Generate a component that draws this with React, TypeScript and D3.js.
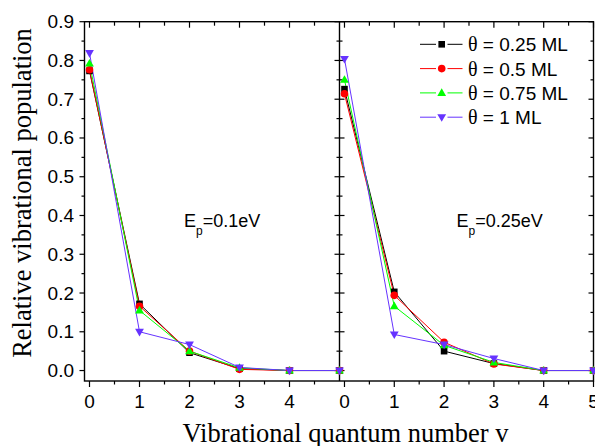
import React from "react";
import * as d3 from "d3";

const vLevels = [0, 1, 2, 3, 4, 5];

// Panel 1: Ep = 0.1 eV
const ep01_theta025 = [0.773, 0.172, 0.046, 0.005, 0.0, 0.0];
const ep01_theta05 = [0.776, 0.166, 0.05, 0.003, 0.0, 0.0];
const ep01_theta075 = [0.792, 0.155, 0.05, 0.007, 0.0, 0.0];
const ep01_theta1 = [0.819, 0.1, 0.067, 0.008, 0.0, 0.0];

// Panel 2: Ep = 0.25 eV
const ep025_theta025 = [0.726, 0.203, 0.05, 0.018, 0.0, 0.0];
const ep025_theta05 = [0.714, 0.194, 0.073, 0.017, 0.0, 0.0];
const ep025_theta075 = [0.75, 0.166, 0.065, 0.021, 0.0, 0.0];
const ep025_theta1 = [0.804, 0.093, 0.067, 0.031, 0.0, 0.0];

const seriesNames = ["0.25 ML", "0.5 ML", "0.75 ML", "1 ML"];
const seriesColors = ["#000000", "#ff0000", "#00ff00", "#6633ff"];
const seriesMarkers = ["square", "circle", "triUp", "triDown"];

const yTicks = [0, 0.1, 0.2, 0.3, 0.4, 0.5, 0.6, 0.7, 0.8, 0.9];
const panelLabels = ["0.1eV", "0.25eV"];

const W = 595;
const H = 446;
const top = 21.7;
const bottom = 381;
const leftX = 84.5;
const midX = 339.5;
const rightX = 593.5;

const yScale = d3.scaleLinear().domain([-0.027, 0.9]).range([bottom, top]);
const xLeft = d3.scaleLinear().domain([-0.1, 5]).range([leftX, midX]);
const xRight = d3.scaleLinear().domain([-0.1, 5]).range([midX, rightX]);

function Marker({ type, x, y, color }: { type: string; x: number; y: number; color: string }) {
  if (type === "square") return <rect x={x - 3.3} y={y - 3.3} width={6.6} height={6.6} fill={color} />;
  if (type === "circle") return <circle cx={x} cy={y} r={3.8} fill={color} />;
  if (type === "triUp")
    return <path d={`M${x},${y - 4.6}L${x + 4.4},${y + 3}L${x - 4.4},${y + 3}Z`} fill={color} />;
  return <path d={`M${x},${y + 4.6}L${x + 4.4},${y - 3}L${x - 4.4},${y - 3}Z`} fill={color} />;
}

export default function App() {
  const panels = [
    { x: xLeft, data: [ep01_theta025, ep01_theta05, ep01_theta075, ep01_theta1], label: panelLabels[0], lx: 184, labels: [0, 1, 2, 3, 4] },
    { x: xRight, data: [ep025_theta025, ep025_theta05, ep025_theta075, ep025_theta1], label: panelLabels[1], lx: 456.5, labels: [0, 1, 2, 3, 4, 5] },
  ];
  const yMinor = d3.range(0, 0.9001, 0.05);
  const xTicksAll = d3.range(0, 5.001, 0.5);
  const ax = "#000";
  const legendY = [44.3, 68.6, 92.9, 117.2];

  return (
    <svg width={W} height={H} style={{ position: "absolute", left: 0, top: 0, background: "#fff" }} fontFamily="Liberation Sans, Arial, sans-serif">
      <rect x={0} y={0} width={W} height={H} fill="#fff" />
      {/* frames */}
      <rect x={leftX} y={top} width={rightX - leftX} height={bottom - top} fill="none" stroke={ax} strokeWidth={1.4} />
      <line x1={midX} x2={midX} y1={top} y2={bottom} stroke={ax} strokeWidth={1.4} />
      {/* y ticks */}
      {yMinor.map((t, i) => {
        const y = yScale(t);
        const major = i % 2 === 0;
        const L = major ? 5 : 3;
        return (
          <g key={"yt" + i}>
            <line x1={leftX - L} x2={leftX} y1={y} y2={y} stroke={ax} strokeWidth={1.2} />
            <line x1={midX - L} x2={midX + L} y1={y} y2={y} stroke={ax} strokeWidth={1.2} />
            <line x1={rightX - L} x2={rightX} y1={y} y2={y} stroke={ax} strokeWidth={1.2} />
          </g>
        );
      })}
      {yTicks.map((t) => (
        <text key={"yl" + t} x={74} y={yScale(t) + 6.5} fontSize={19} textAnchor="end" fill="#000">
          {t.toFixed(1)}
        </text>
      ))}
      {/* x ticks */}
      {panels.map((p, pi) => (
        <g key={"xt" + pi}>
          {xTicksAll.map((t, i) => {
            const x = p.x(t);
            const major = i % 2 === 0;
            if (pi === 0 && t === 5) return null;
            return (
              <g key={i}>
                <line x1={x} x2={x} y1={bottom} y2={bottom + (major ? 6 : 3.5)} stroke={ax} strokeWidth={1.2} />
                <line x1={x} x2={x} y1={top} y2={top + (major ? 6 : 4)} stroke={ax} strokeWidth={1.2} />
              </g>
            );
          })}
          {p.labels.map((t) => (
            <text key={"xl" + t} x={p.x(t)} y={408} fontSize={19} textAnchor="middle" fill="#000">
              {t}
            </text>
          ))}
        </g>
      ))}
      {/* data */}
      {panels.map((p, pi) => {
        const line = d3
          .line<number>()
          .x((_, i) => p.x(vLevels[i]))
          .y((d) => yScale(d));
        return (
          <g key={"d" + pi}>
            {p.data.map((s, si) => (
              <path key={"l" + si} d={line(s) || ""} fill="none" stroke={seriesColors[si]} strokeWidth={1} />
            ))}
            {p.data.map((s, si) => (
              <g key={"m" + si}>
                {s.map((v, i) => (
                  <Marker key={i} type={seriesMarkers[si]} x={p.x(vLevels[i])} y={yScale(v)} color={seriesColors[si]} />
                ))}
              </g>
            ))}
            <text x={p.lx} y={226.5} fontSize={18} fill="#000">
              E
              <tspan fontSize={12} dy={8}>p</tspan>
              <tspan dy={-8}>={p.label}</tspan>
            </text>
          </g>
        );
      })}
      {/* legend */}
      {seriesNames.map((n, i) => {
        const y = legendY[i];
        return (
          <g key={"lg" + i}>
            <line x1={420} x2={436} y1={y} y2={y} stroke={seriesColors[i]} strokeWidth={1} />
            <line x1={447.5} x2={462.5} y1={y} y2={y} stroke={seriesColors[i]} strokeWidth={1} />
            <Marker type={seriesMarkers[i]} x={441.7} y={y} color={seriesColors[i]} />
            <text x={468} y={y + 7} fontSize={19} fill="#000">
              <tspan fontFamily="Liberation Serif, Times New Roman, serif" fontSize={20}>θ</tspan>
              {" = " + n}
            </text>
          </g>
        );
      })}
      {/* axis titles */}
      <text
        transform={`translate(31,193) rotate(-90)`}
        textAnchor="middle"
        fontSize={26.5}
        fontFamily="Liberation Serif, Times New Roman, serif"
        fill="#000"
      >
        Relative vibrational population
      </text>
      <text x={345.5} y={442} textAnchor="middle" fontSize={26.5} fontFamily="Liberation Serif, Times New Roman, serif" fill="#000">
        Vibrational quantum number v
      </text>
    </svg>
  );
}
